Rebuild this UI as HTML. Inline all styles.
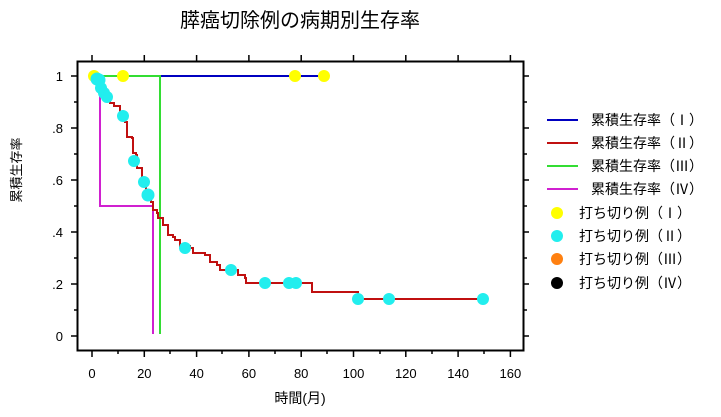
<!DOCTYPE html><html><head><meta charset="utf-8"><style>body{margin:0;background:#fff}svg{display:block}text{font-family:"Liberation Sans","Noto Sans CJK JP",sans-serif;fill:#000}</style></head><body>
<svg width="721" height="417" viewBox="0 0 721 417">
<text x="300" y="27" font-size="20" text-anchor="middle" font-family="Noto Sans CJK JP, sans-serif">膵癌切除例の病期別生存率</text>
<rect x="77.5" y="61.5" width="446" height="289" fill="none" stroke="#000" stroke-width="2"/>
<g stroke="#000" stroke-width="1.5">
<path d="M92 351v6M144.3 351v6M196.6 351v6M248.9 351v6M301.2 351v6M353.5 351v6M405.8 351v6M458.1 351v6M510.4 351v6"/>
<path d="M92 61v-6M144.3 61v-6M196.6 61v-6M248.9 61v-6M301.2 61v-6M353.5 61v-6M405.8 61v-6M458.1 61v-6M510.4 61v-6"/>
<path d="M118 351v3M170 351v3M222 351v3M275 351v3M327 351v3M380 351v3M432 351v3M484 351v3"/>
<path d="M77 76h-6M77 128h-6M77 180h-6M77 232h-6M77 284h-6M77 336h-6M77 102h-3M77 154h-3M77 206h-3M77 258h-3M77 310h-3"/>
<path d="M524 76h5M524 128h5M524 180h5M524 232h5M524 284h5M524 336h5M524 102h3M524 154h3M524 206h3M524 258h3M524 310h3"/>
</g>
<g font-size="13" text-anchor="end">
<text x="63" y="81">1</text><text x="63" y="133">.8</text><text x="63" y="185">.6</text><text x="63" y="237">.4</text><text x="63" y="289">.2</text><text x="63" y="341">0</text></g>
<g font-size="13" text-anchor="middle">
<text x="92" y="378">0</text><text x="144.3" y="378">20</text><text x="196.6" y="378">40</text><text x="248.9" y="378">60</text><text x="301.2" y="378">80</text><text x="353.5" y="378">100</text><text x="405.8" y="378">120</text><text x="458.1" y="378">140</text><text x="510.4" y="378">160</text></g>
<text x="300" y="403" font-size="14" text-anchor="middle">時間(月)</text>
<text transform="translate(21,170) rotate(-90)" font-size="13" text-anchor="middle">累積生存率</text>
<g fill="none" stroke-width="2">
<path d="M92 76H324" stroke="#0000c0"/>
<path d="M92 76H160V334" stroke="#33dd33"/>
<path d="M100 93V206H153V334" stroke="#d020d0"/>
<path d="M92 76H96V81H99V90H102V97H110V103H114V106H120V116H125V122H127V137H132V138H133V153H136V155H137V168H142V182H146V190H148V196H151V202H153V210H157V213H158V218H162V218H163V225H168V225H168V235H173V237H175V240H180V246H190V248H193V253H205V255H210V262H217V265H220V270H236V270H238V275H245V278H246V283H312V292H358V299H483" stroke="#c01010"/>
</g>
<g fill="#ffff00"><circle cx="94" cy="76" r="6"/><circle cx="123" cy="76" r="6"/><circle cx="295" cy="76" r="6"/><circle cx="324" cy="76" r="6"/></g>
<g fill="#22eeee"><circle cx="97" cy="79" r="6.5"/><circle cx="99" cy="80" r="6.5"/><circle cx="101" cy="88" r="6"/><circle cx="104" cy="93" r="6"/><circle cx="107" cy="97" r="6"/><circle cx="123" cy="116" r="6"/><circle cx="134" cy="161" r="6"/><circle cx="144" cy="182" r="6"/><circle cx="148" cy="195" r="6.5"/><circle cx="185" cy="248" r="6"/><circle cx="231" cy="270" r="6"/><circle cx="265" cy="283" r="6"/><circle cx="289" cy="283" r="6"/><circle cx="296" cy="283" r="6"/><circle cx="358" cy="299" r="6"/><circle cx="389" cy="299" r="6"/><circle cx="483" cy="299" r="6"/></g>
<g stroke-width="2"><path d="M547 120H578" stroke="#0000c0"/><path d="M547 143H578" stroke="#c01010"/><path d="M547 166H578" stroke="#33dd33"/><path d="M547 189H578" stroke="#d020d0"/></g>
<circle cx="557" cy="213" r="6" fill="#ffff00"/><circle cx="557" cy="236" r="6" fill="#22eeee"/><circle cx="557" cy="259" r="6" fill="#ff8010"/><circle cx="557" cy="283" r="6" fill="#000"/>
<g font-size="14"><text x="591" y="125">累積生存率（Ⅰ）</text><text x="591" y="148">累積生存率（Ⅱ）</text><text x="591" y="171">累積生存率（Ⅲ）</text><text x="591" y="194">累積生存率（Ⅳ）</text>
<text x="579" y="218">打ち切り例（Ⅰ）</text><text x="579" y="241">打ち切り例（Ⅱ）</text><text x="579" y="264">打ち切り例（Ⅲ）</text><text x="579" y="288">打ち切り例（Ⅳ）</text></g>
</svg></body></html>
